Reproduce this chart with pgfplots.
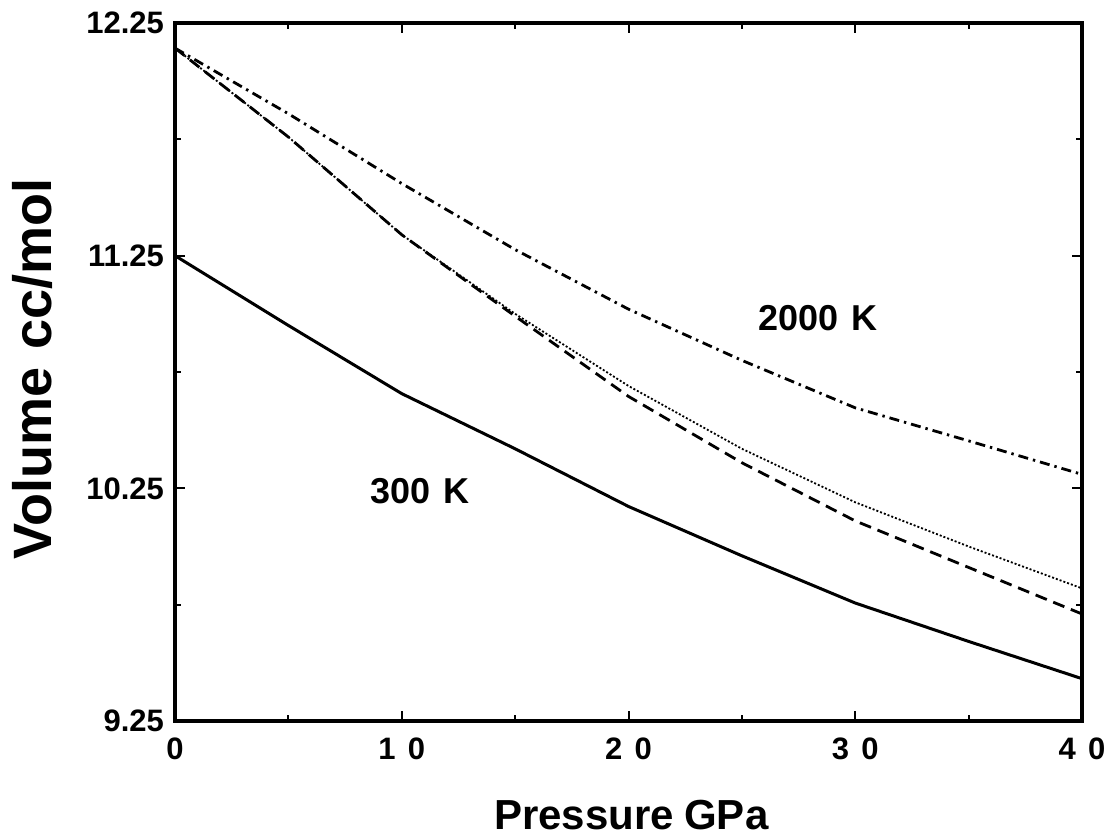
\documentclass[border=0pt]{standalone}
\usepackage{fontspec}
\setmainfont{Liberation Sans}
\usepackage{pgfplots}
\pgfplotsset{compat=1.18}
\begin{document}
\begin{tikzpicture}
\path[use as bounding box] (-87.5pt,-59pt) rectangle (466pt,360.5pt);
\begin{axis}[
  at={(0,0)}, anchor=south west,
  scale only axis, width=453.5pt, height=349pt,
  xmin=0, xmax=40, ymin=9.25, ymax=12.25,
  axis line style={line width=1.8pt},
  tick style={black, line width=1pt},
  tick align=inside,
  major tick length=5pt, minor tick length=3pt,
  xtick={0,10,20,30,40},
  xticklabels={0,1\hspace{0.4em}0,2\hspace{0.4em}0,3\hspace{0.4em}0,4\hspace{0.4em}0},
  minor xtick={5,15,25,35},
  ytick={9.25,10.25,11.25,12.25},
  yticklabels={9.25,10.25,11.25,12.25},
  minor ytick={9.75,10.75,11.75},
  ticklabel style={font=\bfseries\fontsize{15.5}{15.5}\selectfont},
  xticklabel style={yshift=-5pt},
  yticklabel style={xshift=-2pt},
  xlabel={Pressure\hspace{0.25em}GPa},
  ylabel={Volume\hspace{0.35em}cc/mol},
  xlabel style={font=\bfseries\fontsize{21}{21}\selectfont, at={(axis description cs:0.503,-0.1347)}, anchor=center},
  ylabel style={font=\bfseries\fontsize{27}{27}\selectfont, at={(axis description cs:-0.1566,0.505)}, anchor=center},
  clip=false,
]
% 300 K
\addplot[black, line width=1.5pt] coordinates {
(0,11.25) (5,10.95) (10,10.657) (15,10.42) (20,10.172) (25,9.96) (30,9.757) (35,9.592) (40,9.432)};
% 2000 K upper dash-dot
\addplot[black, line width=1.4pt, dash pattern=on 5pt off 2.5pt on 1.2pt off 2.5pt] coordinates {
(0,12.142) (5,11.86) (10,11.56) (15,11.276) (20,11.02) (25,10.80) (30,10.596) (35,10.454) (40,10.31)};
% dotted
\addplot[black, line width=0.9pt, dash pattern=on 1pt off 1pt] coordinates {
(0,12.142) (5,11.76) (10,11.34) (15,11.0) (20,10.69) (25,10.42) (30,10.19) (35,10.00) (40,9.82)};
% dashed
\addplot[black, line width=1.4pt, dash pattern=on 6pt off 3.5pt] coordinates {
(0,12.142) (5,11.76) (10,11.34) (15,10.99) (20,10.645) (25,10.36) (30,10.11) (35,9.91) (40,9.71)};
\node[font=\bfseries\fontsize{18}{18}\selectfont] at (axis cs:28.35,10.98) {2000\hspace{0.35em}K};
\node[font=\bfseries\fontsize{18}{18}\selectfont] at (axis cs:10.8,10.237) {300\hspace{0.35em}K};
\end{axis}
\end{tikzpicture}
\end{document}
